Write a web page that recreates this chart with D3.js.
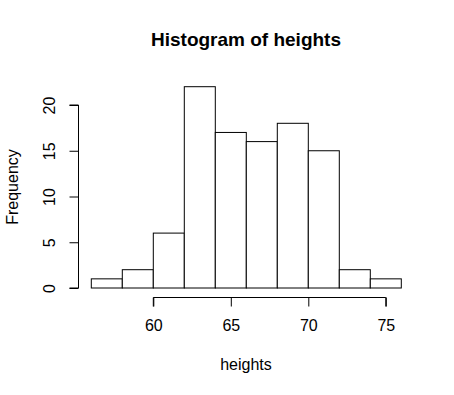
<!DOCTYPE html>
<html><head><meta charset="utf-8">
<script src="https://cdn.jsdelivr.net/npm/d3@7"></script>
<style>body{margin:0;background:#fff}svg{display:block}text{font-family:"Liberation Sans",Arial,sans-serif;fill:#000}</style>
</head><body><svg id="c" width="454" height="395"></svg>
<script>
const binStarts = [56,58,60,62,64,66,68,70,72,74];
const binWidth = 2;
const counts = [1,2,6,22,17,16,18,15,2,1];
const xTicks = [60,65,70,75];
const yTicks = [0,5,10,15,20];
const title = "Histogram of heights";
const xLabel = "heights";
const yLabel = "Frequency";

const svg = d3.select("#c");
const x = d3.scaleLinear().domain([56,76]).range([91.3,401.3]);
const y = d3.scaleLinear().domain([0,20]).range([288,105]);

svg.append("g").selectAll("rect").data(binStarts).join("rect")
  .attr("x", (d)=>x(d)).attr("width", x(binWidth+56)-x(56))
  .attr("y", (d,i)=>y(counts[i])).attr("height",(d,i)=>y(0)-y(counts[i]))
  .attr("fill","#fff").attr("stroke","#000").attr("stroke-width",1);

// x axis
const xa = svg.append("g").attr("transform","translate(0,297.5)")
  .call(d3.axisBottom(x).tickValues(xTicks).tickSize(9).tickPadding(13).tickFormat(d3.format("d")));
xa.select(".domain").attr("d",`M${x(60)},9V0H${x(75)}V9`);
xa.selectAll("text").attr("font-size",16).attr("font-family","Liberation Sans, Arial, sans-serif");

// y axis
const ya = svg.append("g").attr("transform","translate(78.5,0)")
  .call(d3.axisLeft(y).tickValues(yTicks).tickSize(9).tickFormat(d3.format("d")));
ya.select(".domain").attr("d",`M-9,${y(0)}H0V${y(20)}H-9`);
ya.selectAll("text").attr("font-size",16).attr("font-family","Liberation Sans, Arial, sans-serif")
  .attr("x",null).attr("dy",null)
  .attr("text-anchor","middle")
  .attr("transform",function(d){return `translate(-23.5,0) rotate(-90)`;});
svg.selectAll(".tick line, .domain").attr("stroke","#000");

svg.append("text").attr("x",246).attr("y",46).attr("text-anchor","middle")
  .attr("font-size",19).attr("font-weight","bold").text(title);
svg.append("text").attr("x",246).attr("y",370).attr("text-anchor","middle")
  .attr("font-size",16).text(xLabel);
svg.append("text").attr("transform",`translate(18,187) rotate(-90)`)
  .attr("text-anchor","middle").attr("font-size",16).text(yLabel);
</script></body></html>
